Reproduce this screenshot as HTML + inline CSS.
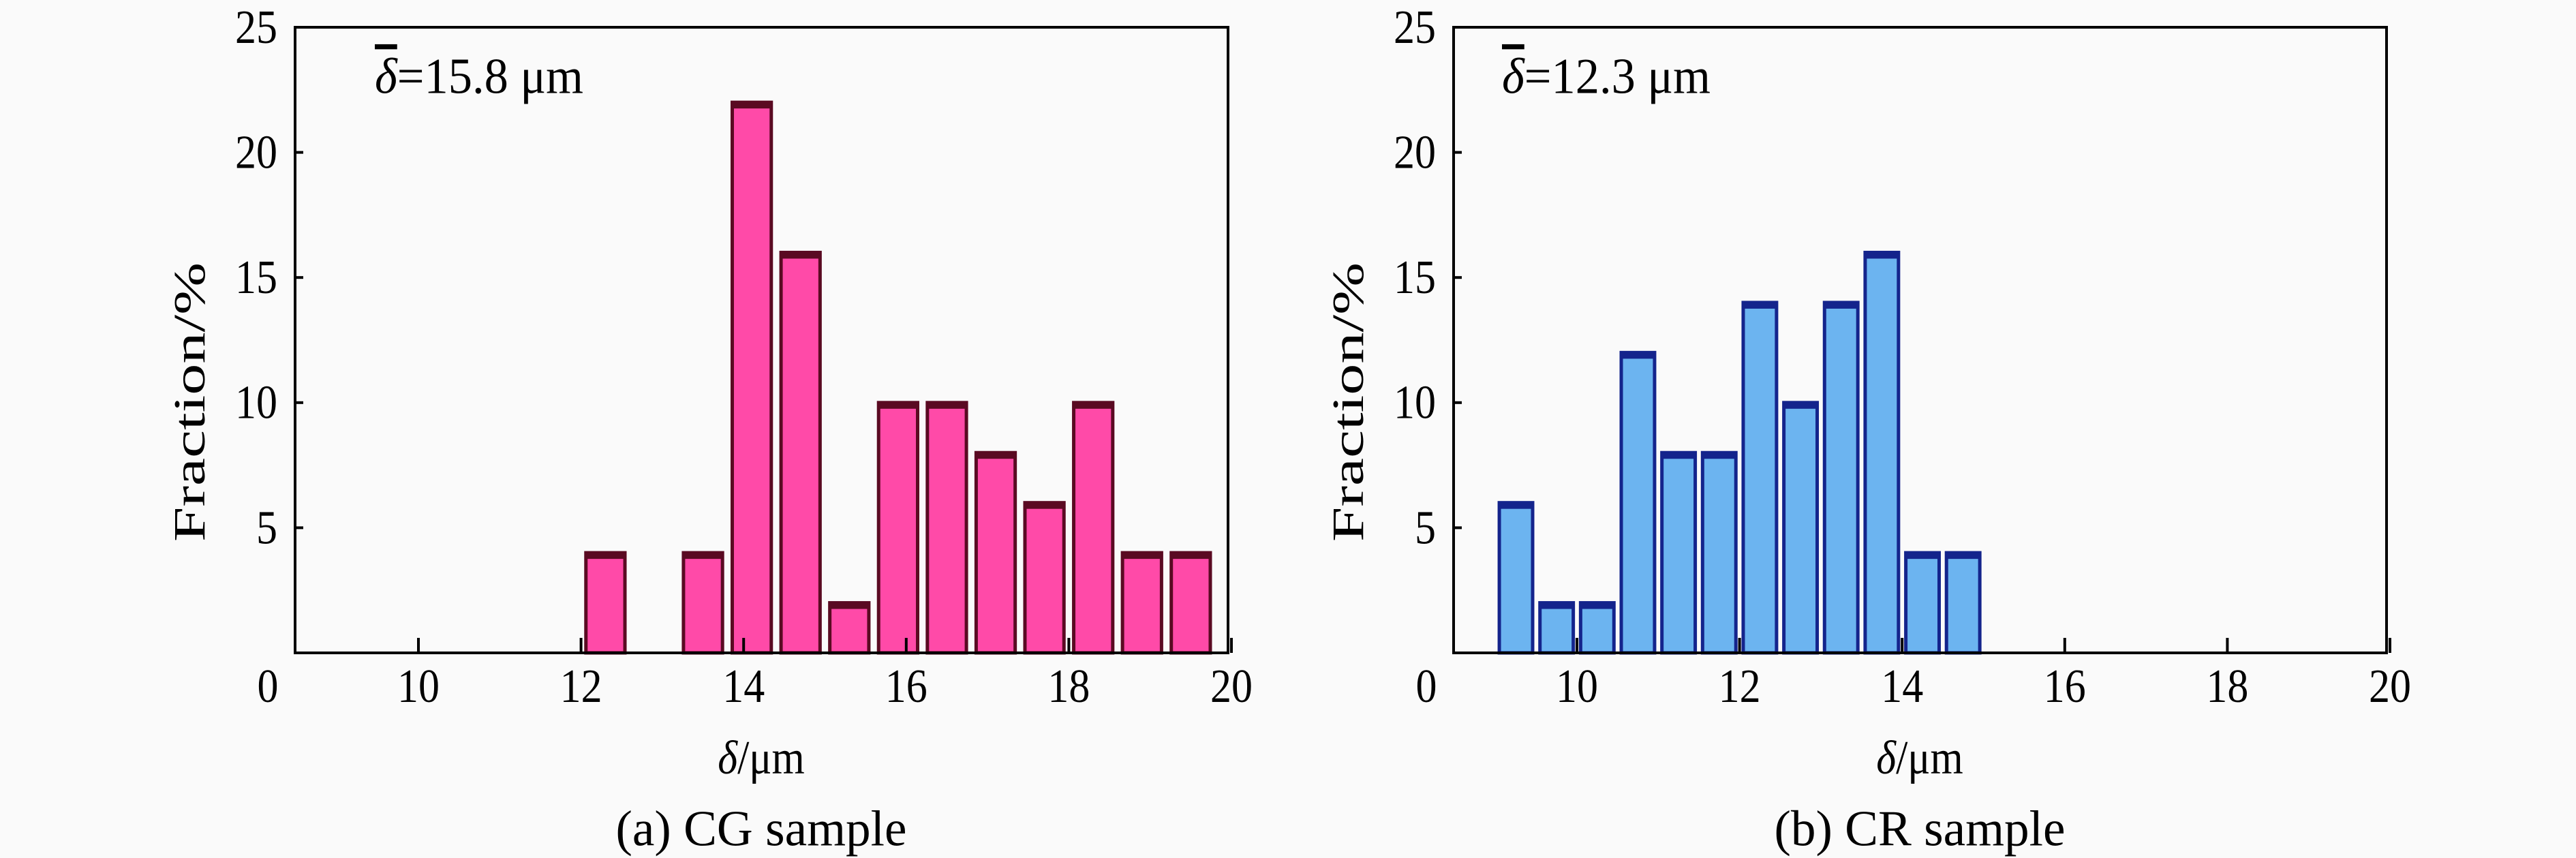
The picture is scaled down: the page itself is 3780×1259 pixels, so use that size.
<!DOCTYPE html>
<html><head><meta charset="utf-8"><style>
html,body{margin:0;padding:0;background:#fafafa;}
svg{display:block;font-family:"Liberation Serif",serif;}
</style></head><body>
<svg id="fig" width="3780" height="1259" viewBox="0 0 3780 1259"></svg>
<script>
const cgCenters=[12.3,12.9,13.5,14.1,14.7,15.3,15.9,16.5,17.1,17.7,18.3,18.9,19.5];
const cgValues=[4,0,4,22,16,2,10,10,8,6,10,4,4];
const crCenters=[9.25,9.75,10.25,10.75,11.25,11.75,12.25,12.75,13.25,13.75,14.25,14.75];
const crValues=[6,2,2,12,8,8,14,10,14,16,4,4];
const xTicks=[10,12,14,16,18,20];
const yTicks=[5,10,15,20,25];
const NS='http://www.w3.org/2000/svg';
const svg=document.getElementById('fig');
function mk(tag,attrs,parent,text){const e=document.createElementNS(NS,tag);for(const k in attrs)e.setAttribute(k,attrs[k]);if(text!==undefined)e.textContent=text;(parent||svg).appendChild(e);return e;}
// text with slight vertical stretch, positioned by its centre-y
function txt(parent,x,cy,s,anchor,sy){sy=sy||1.12;const f=62;const base=0.33*f;
  return mk('text',{x:0,y:base,'font-size':f,'text-anchor':anchor||'middle',transform:'translate('+x+' '+cy+') scale(1 '+sy+')'},parent,s);}
function panel(ox,centers,values,barW,fill,edge,meanText,caption,id){
  const L=ox+433,R=ox+1802,T=40,B=958;
  const X=v=>ox+614+(v-10)*119.3;
  const Y=v=>B-(v/25)*(B-T);
  const g=mk('g',{});
  
  
  const bars=mk('g',{},g);
  
  
  centers.forEach((c,i)=>{
    const v=values[i];
    if(v<=0)return;
    const x0=X(c-barW/2),x1=X(c+barW/2),y=Y(v);
    const r=mk('rect',{x:x0,y:y,width:x1-x0,height:B-y,fill:fill,stroke:edge,'stroke-width':5},bars);
    
    
    mk('rect',{x:x0,y:y,width:x1-x0,height:9,fill:edge},bars);
  });
  const ax=mk('rect',{x:L,y:T,width:R-L,height:B-T,fill:'none',stroke:'#000','stroke-width':4},g);
  
  
  xTicks.forEach(t=>{
    mk('line',{x1:X(t),x2:X(t),y1:B,y2:B-22,stroke:'#000','stroke-width':4},g);
    const tx=txt(g,X(t),1007,String(t));
    
    
  });
  const z=txt(g,ox+393,1007,'0');
  
  
  yTicks.forEach(t=>{
    mk('line',{x1:L,x2:L+12,y1:Y(t),y2:Y(t),stroke:'#000','stroke-width':4},g);
    const ty=txt(g,ox+407,Y(t),String(t),'end');
    
    
  });
  const yt=mk('text',{x:0,y:0,'font-size':66,'text-anchor':'middle',textLength:410,lengthAdjust:'spacingAndGlyphs',transform:'translate('+(ox+300)+' 590) rotate(-90)'},g,'Fraction/%');
  
  
  const xt=txt(g,ox+1117,1112,'');
  
  
  mk('tspan',{'font-style':'italic'},xt,'δ');
  mk('tspan',{},xt,'/μm');
  const m=mk('text',{x:0,y:22,'font-size':66,textLength:306,lengthAdjust:'spacingAndGlyphs',transform:'translate('+meanText[0]+' 112) scale(1 1.12)'},g);
  
  
  mk('tspan',{'font-style':'italic','text-decoration':'overline'},m,'δ');
  mk('tspan',{},m,meanText[1]);
  const cp=mk('text',{x:0,y:22,'font-size':66,'text-anchor':'middle',textLength:427,lengthAdjust:'spacingAndGlyphs',transform:'translate('+(ox+1117)+' 1216) scale(1 1.12)'},g,caption);
  
  
}
panel(0,cgCenters,cgValues,0.48,'#ff4aa8','#5a0a22',[550,'=15.8 μm'],'(a) CG sample','cg');
panel(1700,crCenters,crValues,0.41,'#6cb4f0','#14248c',[2204,'=12.3 μm'],'(b) CR sample','cr');
</script>
</body></html>
